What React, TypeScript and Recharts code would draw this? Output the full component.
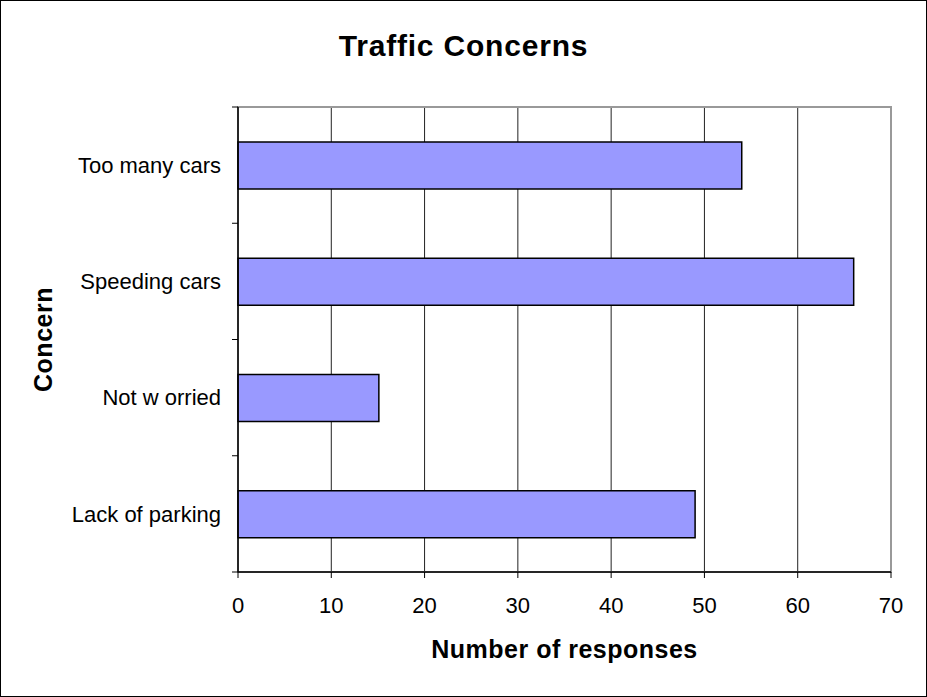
import React from "react"
import { BarChart, Bar, XAxis, YAxis, CartesianGrid, Label, ReferenceArea } from "recharts"

const FONT = "'Liberation Sans', Arial, sans-serif"

const concerns = ["Too many cars", "Speeding cars", "Not w orried", "Lack of parking"]
const responses = [54, 66, 15.1, 49]
const xTicks = [0, 10, 20, 30, 40, 50, 60, 70]

const rows = concerns.map((concern, i) => ({ concern, responses: responses[i] }))

// category tick: label at band centre, small tick mark at band edges (Excel style)
// eslint-disable-next-line @typescript-eslint/no-explicit-any
function ConcernTick(props: any) {
  const { x, y, payload, index, visibleTicksCount } = props
  const half = payload?.offset ?? 58
  const lx1 = x + 11
  const lx2 = x + 17
  return (
    <g>
      <text x={x} y={y} dy="0.355em" textAnchor="end" fontFamily={FONT} fontSize={22} fill="#000">
        {payload.value}
      </text>
      <line x1={lx1} x2={lx2} y1={y - half} y2={y - half} stroke="#000" />
      {index === (visibleTicksCount ?? 4) - 1 && (
        <line x1={lx1} x2={lx2} y1={y + half} y2={y + half} stroke="#000" />
      )}
    </g>
  )
}

// eslint-disable-next-line @typescript-eslint/no-explicit-any
function ConcernTitle({ viewBox }: any) {
  const cy = viewBox.y + viewBox.height / 2
  return (
    <text x={51} y={cy} transform={`rotate(-90 51 ${cy})`} textAnchor="middle"
      fontFamily={FONT} fontSize={25} fontWeight={700} letterSpacing={0.5} fill="#000">
      Concern
    </text>
  )
}

export default function App() {
  return (
    <div style={{
      position: "absolute", left: 0, top: 0, width: 927, height: 697, boxSizing: "border-box",
      border: "1px solid #000", background: "#fff",
    }}>
      <div style={{
        position: "absolute", left: 0, right: 0, top: 28, textAlign: "center",
        fontFamily: FONT, fontSize: 30, fontWeight: 700, letterSpacing: 0.8, lineHeight: "34px", color: "#000",
      }}>
        Traffic Concerns
      </div>
      <BarChart width={925} height={695} data={rows} layout="vertical"
        margin={{ top: 106, right: 35, bottom: 0, left: 0 }} barCategoryGap="30%">
        <CartesianGrid horizontal={false} stroke="#222" strokeWidth={1} />
        <ReferenceArea x1={0} x2={70} fill="none" stroke="#999" strokeWidth={2} />
        <XAxis type="number" domain={[0, 70]} ticks={xTicks} height={124}
          tick={{ fontFamily: FONT, fontSize: 22, fill: "#000" }}
          tickSize={6} tickMargin={19}
          tickLine={{ stroke: "#000" }} axisLine={{ stroke: "#000", strokeWidth: 1.5 }}>
          <Label value="Number of responses" position="insideTop" offset={68}
            style={{ fontFamily: FONT, fontSize: 25, fontWeight: 700, fill: "#000", letterSpacing: 0.5 }} />
        </XAxis>
        <YAxis type="category" dataKey="concern" width={237}
          tick={<ConcernTick />} tickLine={false} tickSize={6} tickMargin={11}
          axisLine={{ stroke: "#000", strokeWidth: 1.5 }}>
          <Label content={<ConcernTitle />} />
        </YAxis>
        <Bar dataKey="responses" fill="#9999FF" stroke="#000" strokeWidth={1.5} isAnimationActive={false} />
      </BarChart>
    </div>
  )
}
